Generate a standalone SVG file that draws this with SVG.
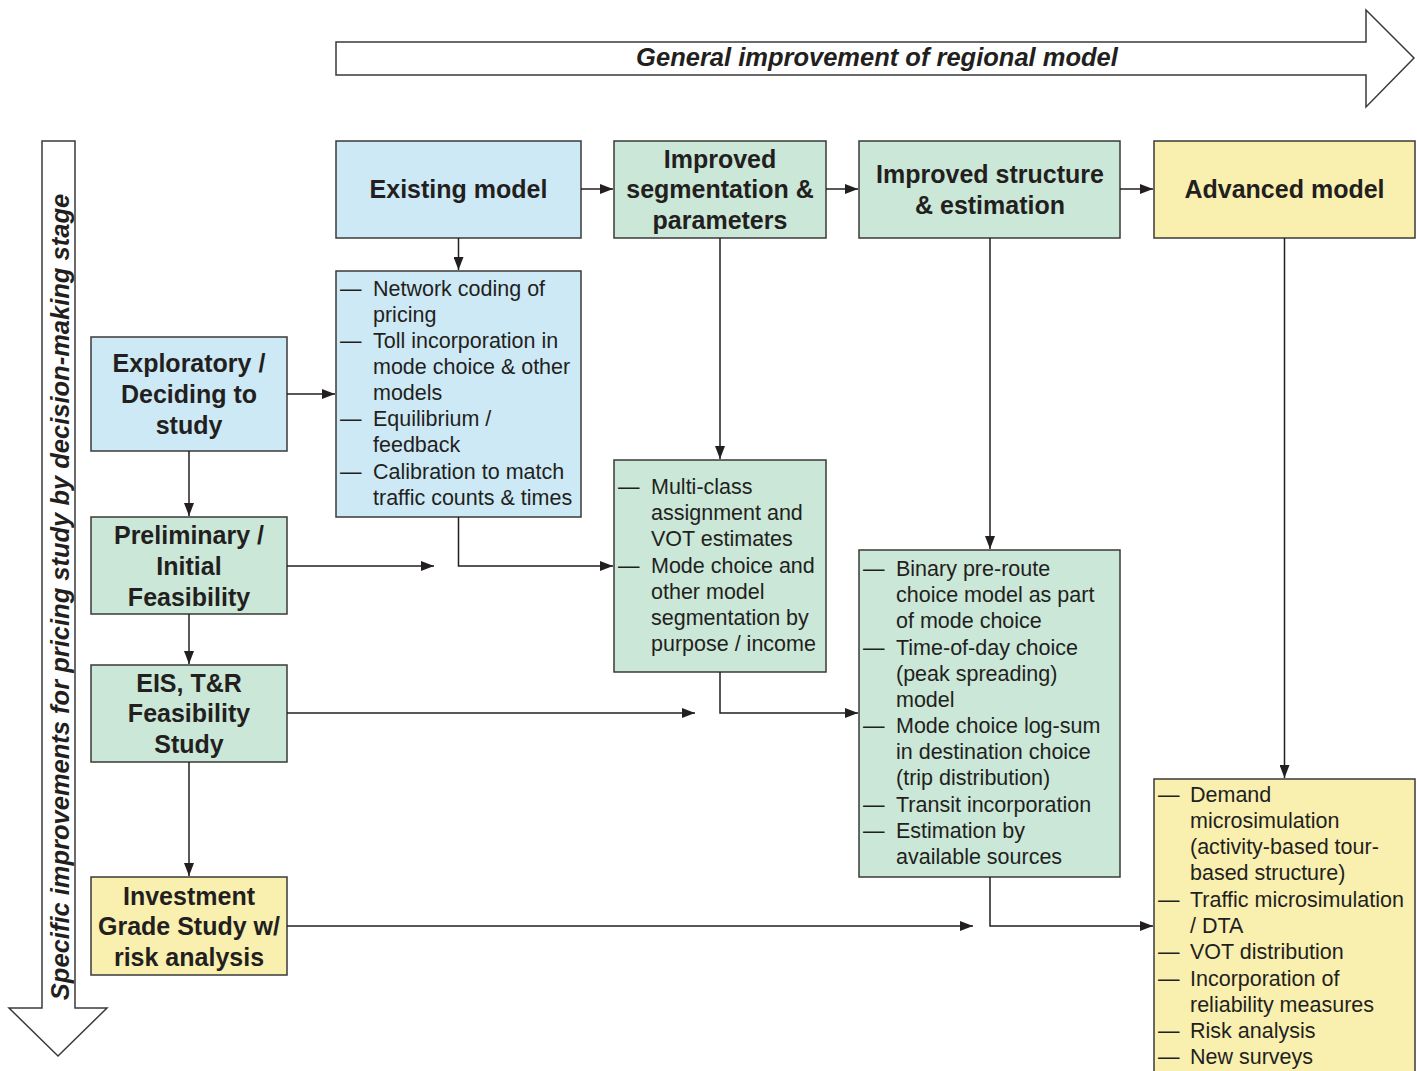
<svg xmlns="http://www.w3.org/2000/svg" width="1417" height="1071" viewBox="0 0 1417 1071">
  <style>
    .box { stroke: #3a3a3a; stroke-width: 1.5; }
    .blue { fill: #cde9f5; }
    .green { fill: #cae7d7; }
    .yellow { fill: #f9efaf; }
    .title { font-family: "Liberation Sans", Arial, sans-serif; font-weight: bold; font-size: 25px; fill: #231f20; text-anchor: middle; dominant-baseline: central; }
    .item { font-family: "Liberation Sans", Arial, sans-serif; font-size: 21.5px; fill: #231f20; dominant-baseline: central; }
    .banner { font-family: "Liberation Sans", Arial, sans-serif; font-weight: bold; font-style: italic; font-size: 25.5px; fill: #231f20; text-anchor: middle; dominant-baseline: central; }
    .big { fill: #ffffff; stroke: #3a3a3a; stroke-width: 1.5; }
    .conn { fill: none; stroke: #231f20; stroke-width: 1.5; }
  </style>
  <defs>
    <marker id="arr" markerUnits="userSpaceOnUse" markerWidth="14" markerHeight="10" refX="13" refY="5" orient="auto">
      <path d="M0,0 L13,5 L0,10 z" fill="#231f20"/>
    </marker>
  </defs>

  <!-- horizontal banner arrow -->
  <g id="banner-general">
    <path class="big" d="M336,42 H1366 V10 L1414,58 L1366,107 V75 H336 Z"/>
    <text class="banner" x="877" y="57">General improvement of regional model</text>
  </g>

  <!-- vertical banner arrow -->
  <g id="banner-specific">
    <path class="big" d="M42,141 H75 V1008 H107 L58,1056 L9,1008 H42 Z"/>
    <text class="banner" transform="translate(60,597) rotate(-90)">Specific improvements for pricing study by decision-making stage</text>
  </g>

  <!-- model stage boxes -->
  <g id="existing-model">
    <rect class="box blue" x="336" y="141" width="245" height="97"/>
    <text class="title" x="458.5" y="189">Existing model</text>
  </g>
  <g id="improved-segmentation">
    <rect class="box green" x="614" y="141" width="212" height="97"/>
    <text class="title" x="720" y="159">Improved</text>
    <text class="title" x="720" y="189">segmentation &amp;</text>
    <text class="title" x="720" y="220">parameters</text>
  </g>
  <g id="improved-structure">
    <rect class="box green" x="859" y="141" width="261" height="97"/>
    <text class="title" x="990" y="174">Improved structure</text>
    <text class="title" x="990" y="205">&amp; estimation</text>
  </g>
  <g id="advanced-model">
    <rect class="box yellow" x="1154" y="141" width="261" height="97"/>
    <text class="title" x="1284.5" y="189">Advanced model</text>
  </g>

  <!-- detail lists -->
  <g id="existing-details">
    <rect class="box blue" x="336" y="271" width="245" height="246"/>
    <g class="item">
      <text x="340" y="289">—</text><text x="373" y="289">Network coding of</text>
      <text x="373" y="315">pricing</text>
      <text x="340" y="341">—</text><text x="373" y="341">Toll incorporation in</text>
      <text x="373" y="367">mode choice &amp; other</text>
      <text x="373" y="393">models</text>
      <text x="340" y="419">—</text><text x="373" y="419">Equilibrium /</text>
      <text x="373" y="445">feedback</text>
      <text x="340" y="472">—</text><text x="373" y="472">Calibration to match</text>
      <text x="373" y="498">traffic counts &amp; times</text>
    </g>
  </g>
  <g id="segmentation-details">
    <rect class="box green" x="614" y="460" width="212" height="212"/>
    <g class="item">
      <text x="618" y="487">—</text><text x="651" y="487">Multi-class</text>
      <text x="651" y="513">assignment and</text>
      <text x="651" y="539">VOT estimates</text>
      <text x="618" y="566">—</text><text x="651" y="566">Mode choice and</text>
      <text x="651" y="592">other model</text>
      <text x="651" y="618">segmentation by</text>
      <text x="651" y="644">purpose / income</text>
    </g>
  </g>
  <g id="structure-details">
    <rect class="box green" x="859" y="550" width="261" height="327"/>
    <g class="item">
      <text x="863" y="569">—</text><text x="896" y="569">Binary pre-route</text>
      <text x="896" y="595">choice model as part</text>
      <text x="896" y="621">of mode choice</text>
      <text x="863" y="648">—</text><text x="896" y="648">Time-of-day choice</text>
      <text x="896" y="674">(peak spreading)</text>
      <text x="896" y="700">model</text>
      <text x="863" y="726">—</text><text x="896" y="726">Mode choice log-sum</text>
      <text x="896" y="752">in destination choice</text>
      <text x="896" y="778">(trip distribution)</text>
      <text x="863" y="805">—</text><text x="896" y="805">Transit incorporation</text>
      <text x="863" y="831">—</text><text x="896" y="831">Estimation by</text>
      <text x="896" y="857">available sources</text>
    </g>
  </g>
  <g id="advanced-details">
    <rect class="box yellow" x="1154" y="779" width="261" height="300"/>
    <g class="item">
      <text x="1158" y="795">—</text><text x="1190" y="795">Demand</text>
      <text x="1190" y="821">microsimulation</text>
      <text x="1190" y="847">(activity-based tour-</text>
      <text x="1190" y="873">based structure)</text>
      <text x="1158" y="900">—</text><text x="1190" y="900">Traffic microsimulation</text>
      <text x="1190" y="926">/ DTA</text>
      <text x="1158" y="952">—</text><text x="1190" y="952">VOT distribution</text>
      <text x="1158" y="979">—</text><text x="1190" y="979">Incorporation of</text>
      <text x="1190" y="1005">reliability measures</text>
      <text x="1158" y="1031">—</text><text x="1190" y="1031">Risk analysis</text>
      <text x="1158" y="1057">—</text><text x="1190" y="1057">New surveys</text>
    </g>
  </g>

  <!-- decision-making stage boxes -->
  <g id="exploratory">
    <rect class="box blue" x="91" y="337" width="196" height="114"/>
    <text class="title" x="189" y="363">Exploratory /</text>
    <text class="title" x="189" y="394">Deciding to</text>
    <text class="title" x="189" y="425">study</text>
  </g>
  <g id="preliminary">
    <rect class="box green" x="91" y="517" width="196" height="97"/>
    <text class="title" x="189" y="535">Preliminary /</text>
    <text class="title" x="189" y="566">Initial</text>
    <text class="title" x="189" y="597">Feasibility</text>
  </g>
  <g id="eis">
    <rect class="box green" x="91" y="665" width="196" height="97"/>
    <text class="title" x="189" y="683">EIS, T&amp;R</text>
    <text class="title" x="189" y="713">Feasibility</text>
    <text class="title" x="189" y="744">Study</text>
  </g>
  <g id="investment-grade">
    <rect class="box yellow" x="91" y="877" width="196" height="98"/>
    <text class="title" x="189" y="896">Investment</text>
    <text class="title" x="189" y="926">Grade Study w/</text>
    <text class="title" x="189" y="957">risk analysis</text>
  </g>

  <!-- connectors -->
  <g id="connectors">
    <path class="conn" marker-end="url(#arr)" d="M581,189 H613"/>
    <path class="conn" marker-end="url(#arr)" d="M826,189 H858"/>
    <path class="conn" marker-end="url(#arr)" d="M1120,189 H1153"/>
    <path class="conn" marker-end="url(#arr)" d="M458.5,238 V270"/>
    <path class="conn" marker-end="url(#arr)" d="M720,238 V459"/>
    <path class="conn" marker-end="url(#arr)" d="M990,238 V549"/>
    <path class="conn" marker-end="url(#arr)" d="M1284.5,238 V778"/>
    <path class="conn" marker-end="url(#arr)" d="M287,394 H335"/>
    <path class="conn" marker-end="url(#arr)" d="M189,451 V516"/>
    <path class="conn" marker-end="url(#arr)" d="M189,614 V664"/>
    <path class="conn" marker-end="url(#arr)" d="M189,762 V876"/>
    <path class="conn" marker-end="url(#arr)" d="M287,566 H434"/>
    <path class="conn" marker-end="url(#arr)" d="M458.5,517 V566 H613"/>
    <path class="conn" marker-end="url(#arr)" d="M287,713 H695"/>
    <path class="conn" marker-end="url(#arr)" d="M720,672 V713 H858"/>
    <path class="conn" marker-end="url(#arr)" d="M287,926 H973"/>
    <path class="conn" marker-end="url(#arr)" d="M990,877 V926 H1153"/>
  </g>
</svg>
